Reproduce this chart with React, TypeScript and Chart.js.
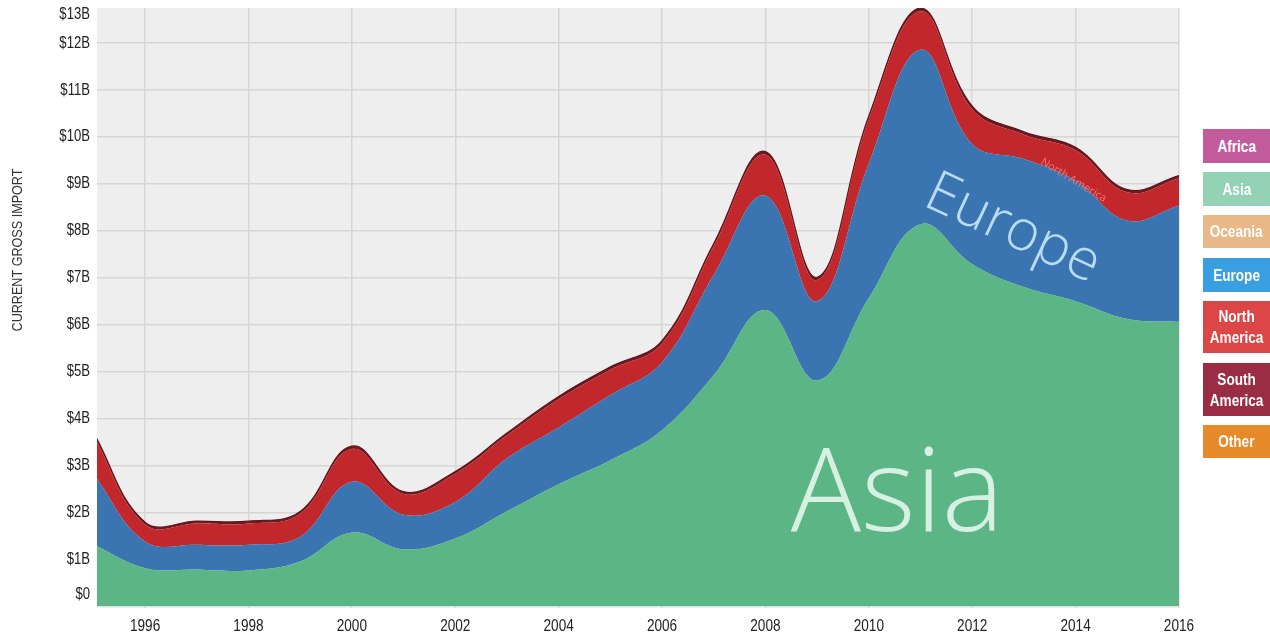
import React, { useEffect, useRef } from "react";
import { Chart, registerables } from "chart.js";

Chart.register(...registerables);

const years = [1995, 1996, 1997, 1998, 1999, 2000, 2001, 2002, 2003, 2004, 2005, 2006, 2007, 2008, 2009, 2010, 2011, 2012, 2013, 2014, 2015, 2016];
const asia = [1.31, 0.81, 0.78, 0.76, 0.95, 1.57, 1.21, 1.44, 2.02, 2.6, 3.11, 3.75, 4.92, 6.31, 4.81, 6.57, 8.14, 7.29, 6.8, 6.5, 6.12, 6.06];
const europe = [1.51, 0.57, 0.53, 0.55, 0.53, 1.08, 0.74, 0.78, 1.13, 1.21, 1.39, 1.45, 2.14, 2.44, 1.69, 2.86, 3.72, 2.56, 2.73, 2.57, 2.1, 2.48];
const northAmerica = [0.82, 0.36, 0.45, 0.45, 0.49, 0.7, 0.44, 0.6, 0.49, 0.6, 0.54, 0.4, 0.61, 0.87, 0.45, 0.95, 0.82, 0.74, 0.52, 0.65, 0.6, 0.58];
const southAmerica = [0.06, 0.05, 0.05, 0.05, 0.05, 0.06, 0.05, 0.05, 0.05, 0.06, 0.06, 0.06, 0.06, 0.07, 0.06, 0.07, 0.07, 0.07, 0.06, 0.06, 0.06, 0.06];

const xTicks = [1996, 1998, 2000, 2002, 2004, 2006, 2008, 2010, 2012, 2014, 2016];
const yTicks = [0, 1, 2, 3, 4, 5, 6, 7, 8, 9, 10, 11, 12, 13];
const yLabels = ["$0", "$1B", "$2B", "$3B", "$4B", "$5B", "$6B", "$7B", "$8B", "$9B", "$10B", "$11B", "$12B", "$13B"];

const legendLabels = ["Africa", "Asia", "Oceania", "Europe", "North\nAmerica", "South\nAmerica", "Other"];
const legendColors = ["#c25b9b", "#93d2b5", "#e9b887", "#3a9fe0", "#dd4646", "#9a2c43", "#e8892a"];

const SANS = '"Liberation Sans", Arial, sans-serif';

const pts = (vals: number[]) => years.map((y, i) => ({ x: y, y: vals[i] }));

function condensedText(ctx: any, text: string, x: number, y: number, sx: number) {
  ctx.save();
  ctx.translate(x, y);
  ctx.scale(sx, 1);
  ctx.fillText(text, 0, 0);
  ctx.restore();
}

const decorPlugin = {
  id: "decor",
  beforeDraw(chart: any) {
    const { ctx, chartArea } = chart;
    ctx.save();
    ctx.fillStyle = "#efeeee";
    ctx.fillRect(chartArea.left, chartArea.top, chartArea.right - chartArea.left, chartArea.bottom - chartArea.top);
    ctx.restore();
  },
  afterDatasetsDraw(chart: any) {
    const { ctx } = chart;
    const xs = chart.scales.x;
    const ys = chart.scales.y;
    ctx.save();
    ctx.fillStyle = "rgba(225,245,233,0.92)";
    ctx.font = '300 117px "Open Sans", "Lato", sans-serif';
    ctx.textAlign = "center";
    ctx.textBaseline = "alphabetic";
    ctx.fillText("Asia", xs.getPixelForValue(2010.55), ys.getPixelForValue(1.6));

    ctx.save();
    ctx.translate(xs.getPixelForValue(2012.65), ys.getPixelForValue(7.72));
    ctx.rotate((25 * Math.PI) / 180);
    ctx.fillStyle = "rgba(190,225,248,0.95)";
    ctx.font = '300 57px "Open Sans", "Lato", sans-serif';
    ctx.textAlign = "center";
    ctx.fillText("Europe", 0, 0);
    ctx.restore();

    ctx.save();
    ctx.translate(xs.getPixelForValue(2013.93), ys.getPixelForValue(9.02));
    ctx.rotate((31 * Math.PI) / 180);
    ctx.fillStyle = "#f27474";
    ctx.font = '11px "Open Sans", sans-serif';
    ctx.textAlign = "center";
    ctx.fillText("North America", 0, 0);
    ctx.restore();
    ctx.restore();
  },
  afterDraw(chart: any) {
    const { ctx, chartArea } = chart;
    const ys = chart.scales.y;
    const xs = chart.scales.x;
    ctx.save();
    ctx.fillStyle = "#222";
    ctx.font = `16px ${SANS}`;
    ctx.textAlign = "right";
    ctx.textBaseline = "middle";
    yTicks.forEach((v, i) => {
      let p = ys.getPixelForValue(v);
      p = Math.max(chartArea.top + 7, Math.min(chartArea.bottom - 13, p));
      condensedText(ctx, yLabels[i], chartArea.left - 7, p, 0.82);
    });
    ctx.textAlign = "center";
    xTicks.forEach((v) => {
      condensedText(ctx, String(v), xs.getPixelForValue(v), chartArea.bottom + 19, 0.85);
    });
    ctx.translate(18, 250);
    ctx.rotate(-Math.PI / 2);
    ctx.textAlign = "center";
    ctx.font = `14px ${SANS}`;
    ctx.fillStyle = "#333";
    condensedText(ctx, "CURRENT GROSS IMPORT", 0, 0, 0.9);
    ctx.restore();
  },
};

export default function App() {
  const ref = useRef<HTMLCanvasElement | null>(null);
  useEffect(() => {
    document.body.style.margin = "0";
    const canvas = ref.current!;
    const chart = new Chart(canvas, {
      type: "line",
      data: {
        datasets: [
          { label: "Asia", data: pts(asia), backgroundColor: "#5cb584", borderWidth: 0, fill: "origin", pointRadius: 0, tension: 0.4 },
          { label: "Europe", data: pts(europe), backgroundColor: "#3b75b1", borderWidth: 0, fill: "-1", pointRadius: 0, tension: 0.4 },
          { label: "North America", data: pts(northAmerica), backgroundColor: "#c1272b", borderWidth: 0, fill: "-1", pointRadius: 0, tension: 0.4 },
          { label: "South America", data: pts(southAmerica), backgroundColor: "#6e1a22", borderColor: "#5e161c", borderWidth: 1.2, fill: "-1", pointRadius: 0, tension: 0.4 },
        ],
      },
      options: {
        responsive: false,
        animation: false,
        layout: { padding: { top: 8, right: 91, left: 0, bottom: 0 } },
        plugins: { legend: { display: false }, tooltip: { enabled: false } },
        scales: {
          x: {
            type: "linear",
            min: 1995.07,
            max: 2016,
            afterBuildTicks: (s: any) => {
              s.ticks = xTicks.map((v) => ({ value: v }));
            },
            afterFit: (s: any) => {
              s.height = 26;
            },
            ticks: { display: false },
            grid: { color: "#d6d6d6", lineWidth: 1.5, drawTicks: false },
            border: { display: false },
          },
          y: {
            stacked: true,
            min: -0.04,
            max: 12.75,
            afterBuildTicks: (s: any) => {
              s.ticks = yTicks.filter((v) => v <= 12).map((v) => ({ value: v }));
            },
            afterFit: (s: any) => {
              s.width = 97;
            },
            ticks: { display: false },
            grid: { color: "#d6d6d6", lineWidth: 1.5, drawTicks: false },
            border: { display: false },
          },
        },
      },
      plugins: [decorPlugin],
    });
    return () => chart.destroy();
  }, []);

  const tops = [129, 172, 215, 258, 301, 363, 425];
  const heights = [34, 34, 33, 34, 52, 53, 33];

  return (
    <div style={{ position: "relative", width: 1270, height: 634, background: "#fff" }}>
      <canvas ref={ref} width={1270} height={634} style={{ display: "block" }} />
      {legendLabels.map((label, i) => (
        <div
          key={label}
          style={{
            position: "absolute",
            left: 1203,
            top: tops[i],
            width: 67,
            height: heights[i],
            background: legendColors[i],
            color: "#fff",
            fontFamily: SANS,
            fontWeight: "bold",
            fontSize: 16,
            lineHeight: "21px",
            display: "flex",
            alignItems: "center",
            justifyContent: "center",
            textAlign: "center",
            whiteSpace: "pre-line",
          }}
        >
          <span style={{ display: "inline-block", transform: "scaleX(0.85)" }}>{label}</span>
        </div>
      ))}
    </div>
  );
}
